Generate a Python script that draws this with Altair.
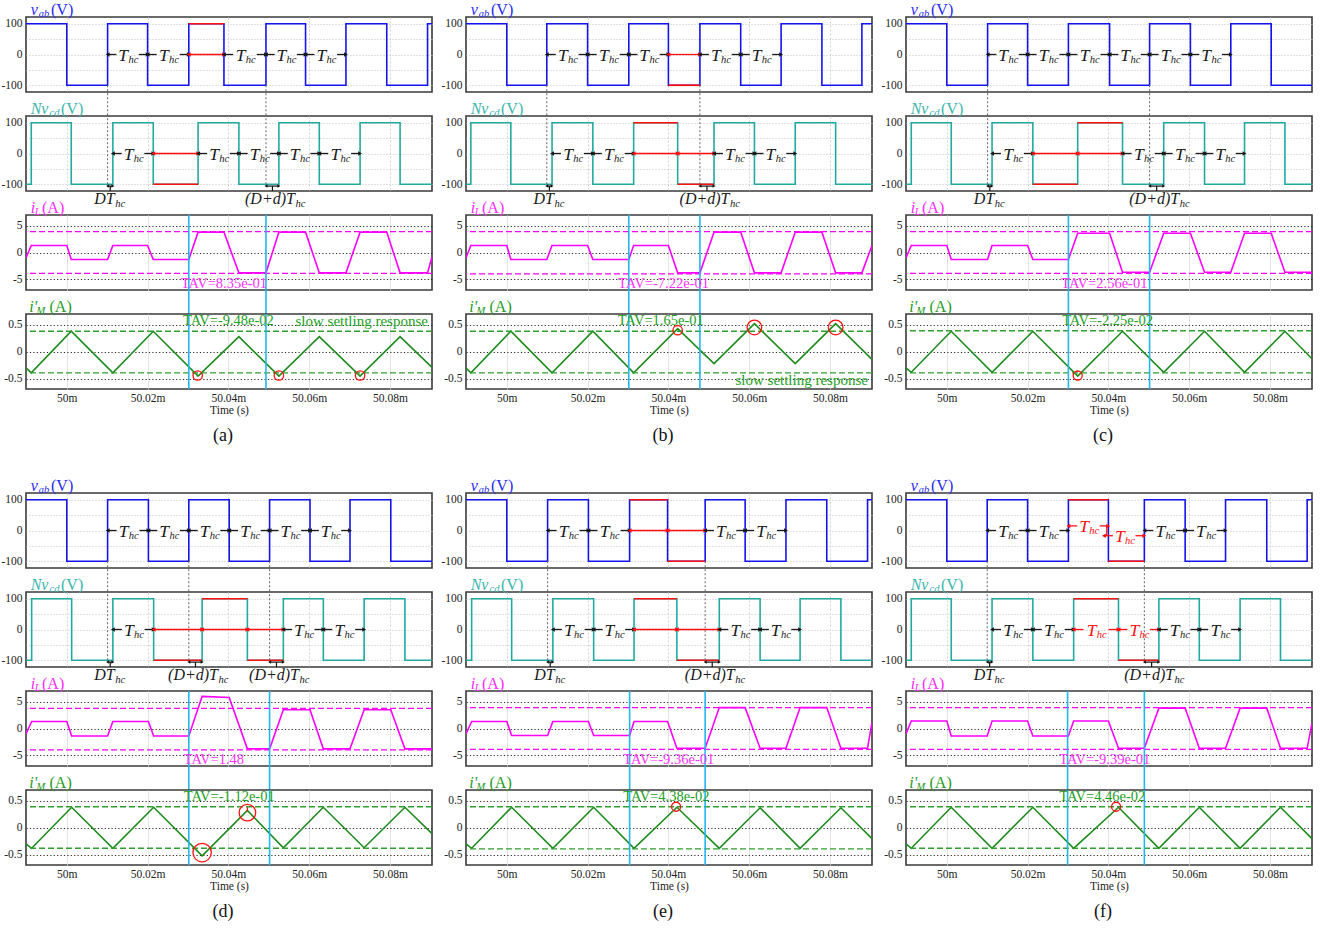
import altair as alt
import pandas as pd

FONT = "Liberation Serif"
W, H, GAP, COL_GAP, ROW_BREAK = 406, 75, 24, 34, 56

# time axis: microseconds after t = 50 ms
T_LO, T_HI = -10.1, 90.4
TIME_TICKS = [0, 20, 40, 60, 80]
PANELS = ["a", "b", "c", "d", "e", "f"]

# switching instants (µs); v_ab starts at +100 V, N*v_cd starts at -100 V
VAB_EDGES = {
    "a": [0.0, 10.1, 20.0, 30.2, 38.9, 49.3, 59.1, 69.1, 79.2, 89.3],
    "b": [0.0, 9.9, 20.0, 30.2, 40.0, 47.8, 57.9, 67.9, 78.0, 87.9],
    "c": [0.0, 10.1, 20.0, 30.1, 40.3, 50.2, 60.3, 70.3, 80.3],
    "d": [0.0, 10.1, 20.2, 30.2, 40.2, 50.2, 60.2, 70.1, 80.2],
    "e": [0.0, 10.1, 20.2, 30.4, 39.8, 49.1, 59.0, 69.1, 79.2, 89.3],
    "f": [0.0, 10.0, 20.0, 30.1, 40.0, 48.9, 59.0, 69.0, 79.2, 89.2],
}
NVCD_EDGES = {
    "a": [-8.8, 1.1, 11.4, 21.4, 32.5, 42.6, 52.5, 62.5, 72.6, 82.5],
    "b": [-8.9, 1.0, 11.2, 21.3, 31.4, 42.3, 51.3, 61.3, 71.4, 81.4],
    "c": [-8.8, 1.1, 11.2, 21.3, 32.4, 43.5, 53.7, 63.8, 73.7, 83.7],
    "d": [-8.7, 1.2, 11.4, 21.5, 33.5, 44.7, 53.6, 63.5, 73.6, 83.7],
    "e": [-8.7, 1.2, 11.4, 21.5, 31.5, 42.1, 52.6, 62.7, 72.6, 82.7],
    "f": [-8.8, 1.1, 11.2, 21.3, 31.4, 42.5, 52.5, 62.5, 72.6, 82.6],
}

# inductor current i_L (A): corner times and values
IL_T = {
    "a": [-10.1, -8.8, 0.0, 1.1, 10.1, 11.4, 20.0, 21.4, 30.2, 32.5, 38.9, 42.6, 49.3, 52.5, 59.1, 62.5, 69.1, 72.6, 79.2, 82.5, 89.3, 90.4],
    "b": [-10.1, -8.9, 0.0, 1.0, 9.9, 11.2, 20.0, 21.3, 30.2, 31.4, 40.0, 42.3, 47.8, 51.3, 57.9, 61.3, 67.9, 71.4, 78.0, 81.4, 87.9, 90.4],
    "c": [-10.1, -8.8, 0.0, 1.1, 10.1, 11.2, 20.0, 21.3, 30.1, 32.4, 40.3, 43.5, 50.2, 53.7, 60.3, 63.8, 70.3, 73.7, 80.3, 83.7, 90.4],
    "d": [-10.1, -8.7, 0.0, 1.2, 10.1, 11.4, 20.2, 21.5, 30.2, 33.5, 40.2, 44.7, 50.2, 53.6, 60.2, 63.5, 70.1, 73.6, 80.2, 83.7, 90.4],
    "e": [-10.1, -8.7, 0.0, 1.2, 10.1, 11.4, 20.2, 21.5, 30.4, 31.5, 39.8, 42.1, 49.1, 52.6, 59.0, 62.7, 69.1, 72.6, 79.2, 82.7, 89.3, 90.4],
    "f": [-10.1, -8.8, 0.0, 1.1, 10.0, 11.2, 20.0, 21.3, 30.1, 31.4, 40.0, 42.5, 48.9, 52.5, 59.0, 62.5, 69.0, 72.6, 79.2, 82.6, 89.2, 90.4],
}
IL_V = {
    "a": [-1.0, 1.3, 1.3, -1.3, -1.3, 1.3, 1.3, -1.3, -1.3, 3.8, 3.8, -3.8, -3.8, 3.8, 3.8, -3.8, -3.8, 3.8, 3.8, -3.8, -3.8, -0.8],
    "b": [-1.0, 1.3, 1.3, -1.3, -1.3, 1.3, 1.3, -1.3, -1.3, 1.3, 1.3, -3.8, -3.8, 3.8, 3.8, -3.8, -3.8, 3.8, 3.8, -3.8, -3.8, 1.3],
    "c": [-1.0, 1.3, 1.3, -1.3, -1.3, 1.3, 1.3, -1.3, -1.3, 3.6, 3.6, -3.7, -3.7, 3.6, 3.6, -3.7, -3.7, 3.6, 3.6, -3.7, -3.7],
    "d": [-1.0, 1.3, 1.3, -1.4, -1.4, 1.3, 1.3, -1.4, -1.4, 6.0, 5.8, -3.8, -3.8, 3.5, 3.5, -3.8, -3.8, 3.5, 3.5, -3.8, -3.8],
    "e": [-1.0, 1.3, 1.3, -1.3, -1.3, 1.3, 1.3, -1.3, -1.3, 1.3, 1.3, -3.7, -3.7, 3.9, 3.9, -3.7, -3.7, 3.9, 3.9, -3.7, -3.7, 1.2],
    "f": [-1.0, 1.4, 1.4, -1.4, -1.4, 1.4, 1.4, -1.4, -1.4, 1.4, 1.4, -3.7, -3.7, 3.8, 3.8, -3.7, -3.7, 3.8, 3.8, -3.7, -3.7, 1.0],
}

# magnetizing current i'_M (A): peaks and troughs
IM_T = {
    "a": [-10.1, -8.8, 1.1, 11.4, 21.4, 32.5, 42.6, 52.5, 62.5, 72.6, 82.5, 90.4],
    "b": [-10.1, -8.9, 1.0, 11.2, 21.3, 31.4, 42.3, 51.3, 61.3, 71.4, 81.4, 90.4],
    "c": [-10.1, -8.8, 1.1, 11.2, 21.3, 32.4, 43.5, 53.7, 63.8, 73.7, 83.7, 90.4],
    "d": [-10.1, -8.7, 1.2, 11.4, 21.5, 33.5, 44.7, 53.6, 63.5, 73.6, 83.7, 90.4],
    "e": [-10.1, -8.7, 1.2, 11.4, 21.5, 31.5, 42.1, 52.6, 62.7, 72.6, 82.7, 90.4],
    "f": [-10.1, -8.8, 1.1, 11.2, 21.3, 31.4, 42.5, 52.5, 62.5, 72.6, 82.6, 90.4],
}
IM_V = {
    "a": [-0.30, -0.39, 0.38, -0.39, 0.38, -0.45, 0.28, -0.45, 0.28, -0.45, 0.28, -0.29],
    "b": [-0.30, -0.39, 0.38, -0.39, 0.38, -0.39, 0.43, -0.22, 0.52, -0.22, 0.52, -0.14],
    "c": [-0.30, -0.38, 0.38, -0.38, 0.38, -0.45, 0.38, -0.38, 0.38, -0.38, 0.38, -0.13],
    "d": [-0.30, -0.38, 0.38, -0.38, 0.38, -0.52, 0.32, -0.37, 0.38, -0.37, 0.38, -0.11],
    "e": [-0.30, -0.38, 0.38, -0.38, 0.38, -0.38, 0.38, -0.38, 0.37, -0.38, 0.37, -0.20],
    "f": [-0.30, -0.38, 0.38, -0.38, 0.38, -0.38, 0.38, -0.38, 0.38, -0.38, 0.38, -0.20],
}

# half-cycle arrows: (start, end, level, ink, labelled)
VAB_ARROWS = {
    "a": [(10.1, 20.0, 0, "k", 1), (20.0, 30.2, 0, "k", 1), (30.2, 38.9, 0, "r", 0), (38.9, 49.3, 0, "k", 1), (49.3, 59.1, 0, "k", 1), (59.1, 69.1, 0, "k", 1)],
    "b": [(9.9, 20.0, 0, "k", 1), (20.0, 30.2, 0, "k", 1), (30.2, 40.0, 0, "k", 1), (40.0, 47.8, 0, "r", 0), (47.8, 57.9, 0, "k", 1), (57.9, 67.9, 0, "k", 1)],
    "c": [(10.1, 20.0, 0, "k", 1), (20.0, 30.1, 0, "k", 1), (30.1, 40.3, 0, "k", 1), (40.3, 50.2, 0, "k", 1), (50.2, 60.3, 0, "k", 1), (60.3, 70.3, 0, "k", 1)],
    "d": [(10.1, 20.2, 0, "k", 1), (20.2, 30.2, 0, "k", 1), (30.2, 40.2, 0, "k", 1), (40.2, 50.2, 0, "k", 1), (50.2, 60.2, 0, "k", 1), (60.2, 70.1, 0, "k", 1)],
    "e": [(10.1, 20.2, 0, "k", 1), (20.2, 30.4, 0, "k", 1), (30.4, 39.8, 0, "r", 0), (39.8, 49.1, 0, "r", 0), (49.1, 59.0, 0, "k", 1), (59.0, 69.1, 0, "k", 1)],
    "f": [(10.0, 20.0, 0, "k", 1), (20.0, 30.1, 0, "k", 1), (30.1, 40.0, 15, "r", 1), (38.9, 48.9, -17, "r", 1), (48.9, 59.0, 0, "k", 1), (59.0, 69.0, 0, "k", 1)],
}
NVCD_ARROWS = {
    "a": [(11.4, 21.4, 0, "k", 1), (21.4, 32.5, 0, "r", 0), (32.5, 42.6, 0, "k", 1), (42.6, 52.5, 0, "k", 1), (52.5, 62.5, 0, "k", 1), (62.5, 72.6, 0, "k", 1)],
    "b": [(11.2, 21.3, 0, "k", 1), (21.3, 31.4, 0, "k", 1), (31.4, 42.3, 0, "r", 0), (42.3, 51.3, 0, "r", 0), (51.3, 61.3, 0, "k", 1), (61.3, 71.4, 0, "k", 1)],
    "c": [(11.2, 21.3, 0, "k", 1), (21.3, 32.4, 0, "r", 0), (32.4, 43.5, 0, "r", 0), (43.5, 53.7, 0, "k", 1), (53.7, 63.8, 0, "k", 1), (63.8, 73.7, 0, "k", 1)],
    "d": [(11.4, 21.5, 0, "k", 1), (21.5, 33.5, 0, "r", 0), (33.5, 44.7, 0, "r", 0), (44.7, 53.6, 0, "r", 0), (53.6, 63.5, 0, "k", 1), (63.5, 73.6, 0, "k", 1)],
    "e": [(11.4, 21.5, 0, "k", 1), (21.5, 31.5, 0, "k", 1), (31.5, 42.1, 0, "r", 0), (42.1, 52.6, 0, "r", 0), (52.6, 62.7, 0, "k", 1), (62.7, 72.6, 0, "k", 1)],
    "f": [(11.2, 21.3, 0, "k", 1), (21.3, 31.4, 0, "k", 1), (31.4, 42.5, 0, "r", 1), (42.5, 52.5, 0, "r", 1), (52.5, 62.5, 0, "k", 1), (62.5, 72.6, 0, "k", 1)],
}

# highlighted (modified) half-cycles: (start, end, level)
VAB_RED = {
    "a": [(30.2, 38.9, 100)], "b": [(40.0, 47.8, -100)], "c": [], "d": [],
    "e": [(30.4, 39.8, 100), (39.8, 49.1, -100)], "f": [(30.1, 40.0, 100), (40.0, 48.9, -100)],
}
NVCD_RED = {
    "a": [(21.4, 32.5, -100)],
    "b": [(31.4, 42.3, 100), (42.3, 51.3, -100)],
    "c": [(21.3, 32.4, -100), (32.4, 43.5, 100)],
    "d": [(21.5, 33.5, -100), (33.5, 44.7, 100), (44.7, 53.6, -100)],
    "e": [(31.5, 42.1, 100), (42.1, 52.6, -100)],
    "f": [(31.4, 42.5, 100), (42.5, 52.5, -100)],
}
VAB_RED_LINK = {"f": [(39.6, 15, -17)]}

CONNECTORS = {"a": [10.1, 49.3], "b": [9.9, 47.8], "c": [10.1, 50.2], "d": [10.1, 30.2, 50.2], "e": [10.1, 49.1], "f": [10.0, 48.9]}
BRACKETS = {
    "a": [(10.1, 11.4, "DT"), (49.3, 52.5, "(D+d)T")],
    "b": [(9.9, 11.2, "DT"), (47.8, 51.3, "(D+d)T")],
    "c": [(10.1, 11.2, "DT"), (50.2, 53.7, "(D+d)T")],
    "d": [(10.1, 11.4, "DT"), (30.2, 33.5, "(D+d)T"), (50.2, 53.6, "(D+d)T")],
    "e": [(10.1, 11.4, "DT"), (49.1, 52.6, "(D+d)T")],
    "f": [(10.0, 11.2, "DT"), (48.9, 52.5, "(D+d)T")],
}
CURSORS = {"a": [30.2, 49.3], "b": [30.2, 47.8], "c": [30.1, 50.2], "d": [30.2, 50.2], "e": [30.4, 49.1], "f": [29.9, 48.9]}
IL_BAND = {"a": (3.9, -3.9), "b": (3.9, -4.0), "c": (3.9, -3.9), "d": (3.75, -4.0), "e": (3.9, -3.9), "f": (3.9, -3.9)}
IM_BAND = {"a": (0.38, -0.39), "b": (0.38, -0.39), "c": (0.39, -0.39), "d": (0.39, -0.38), "e": (0.39, -0.39), "f": (0.39, -0.38)}
IL_TAV = {"a": ("TAV=8.35e-01", 38.9), "b": ("TAV=-7.22e-01", 38.8), "c": ("TAV=2.56e-01", 39.0),
          "d": ("TAV=1.48", 36.4), "e": ("TAV=-9.36e-01", 40.1), "f": ("TAV=-9.39e-01", 39.1)}
IM_TAV = {"a": ("TAV=-9.48e-02", 40.0), "b": ("TAV=1.65e-01", 38.1), "c": ("TAV=-2.25e-02", 39.8),
          "d": ("TAV=-1.12e-01", 40.2), "e": ("TAV=4.38e-02", 39.5), "f": ("TAV=4.46e-02", 38.5)}
IM_RINGS = {  # (time, value, radius px)
    "a": [(32.4, -0.44, 4.7), (52.5, -0.44, 4.7), (72.6, -0.44, 4.7)],
    "b": [(42.3, 0.40, 4.7), (61.3, 0.45, 7.3), (81.4, 0.45, 7.3)],
    "c": [(32.4, -0.44, 4.5)],
    "d": [(33.5, -0.46, 9.2), (44.7, 0.28, 8.3)],
    "e": [(41.9, 0.39, 4.5)],
    "f": [(41.9, 0.39, 4.5)],
}
IM_TICK = {"d": [(44.7, 0.30, 0.38)]}
SLOW_NOTE = {"a": (73.0, 0.57), "b": (73.0, -0.52)}

BLUE, TEAL, MAGENTA, GREEN = "#1414f0", "#22aaa2", "#ff00ff", "#1c8a1c"
RED, CYAN = "#ff1010", "#22b6ef"
INK = {"k": "#1a1a1a", "r": RED}
TITLE_COLOR = {"vab": "#2a2af5", "nvcd": "#3ab5ad", "il": "#ff2aff", "im": "#249a24"}
TITLE_PARTS = {  # (text, italic, size, x px, baseline px)
    "vab": [("v", True, 16, 4.7, -2.5), ("ab", True, 10.5, 12.8, -0.2), ("(V)", False, 16, 25.0, -2.5)],
    "nvcd": [("Nv", True, 16, 4.7, -2.5), ("cd", True, 10.5, 23.5, -0.2), ("(V)", False, 16, 35.0, -2.5)],
    "il": [("i", True, 16, 4.7, -2.5), ("L", True, 10.5, 8.8, -0.2), ("(A)", False, 16, 16.0, -2.5)],
    "im": [("i'", True, 16, 3.3, -2.5), ("M", True, 10.5, 10.5, -0.2), ("(A)", False, 16, 23.5, -2.5)],
}

ONE = pd.DataFrame({"k": [0]})
XS = alt.Scale(domain=[T_LO, T_HI], nice=False, zero=False)
YS = {
    "vab": alt.Scale(domain=[-122, 122], nice=False, zero=False),
    "nvcd": alt.Scale(domain=[-122, 122], nice=False, zero=False),
    "il": alt.Scale(domain=[-7, 7], nice=False, zero=False),
    "im": alt.Scale(domain=[-0.69, 0.70], nice=False, zero=False),
}
Y_TICKS = {"vab": [-100, -50, 0, 50, 100], "nvcd": [-100, -50, 0, 50, 100], "il": [-5, 0, 5], "im": [-0.5, 0, 0.5]}


def x_axis(kind):
    volt = kind in ("vab", "nvcd")
    bottom = kind == "im"
    return alt.Axis(
        values=TIME_TICKS, grid=True, gridColor="#d2d2d2" if volt else "#dadada",
        gridDash=[2, 2] if volt else [1, 0], gridWidth=1,
        ticks=False, tickSize=0, domain=False, labels=bottom, labelOverlap=False,
        labelExpr="datum.value == 0 ? '50m' : format(50 + datum.value / 1000, '.2f') + 'm'",
        labelPadding=3, title="Time (s)" if bottom else None, titlePadding=1,
    )


def y_axis(kind):
    volt = kind in ("vab", "nvcd")
    return alt.Axis(
        values=Y_TICKS[kind], grid=True,
        gridColor="#c4c4c4" if volt else "#2a2a2a", gridDash=[1, 2] if volt else [1.2, 2.2], gridWidth=1,
        ticks=False, tickSize=0, domain=False, labelPadding=4, title=None, labelOverlap=False,
        labelExpr="abs(datum.value) == 50 ? '' : '' + datum.value",
    )


# every layer of a panel carries the same field names and the same axis definition,
# so the layered axes merge into one that keeps the chosen ticks
def X(kind):
    return alt.X("t:Q", scale=XS, axis=x_axis(kind))


def Y(kind):
    return alt.Y("v:Q", scale=YS[kind], axis=y_axis(kind))


def wave(df, kind, color):
    return alt.Chart(df).mark_line(color=color, strokeWidth=1.6, clip=True).encode(
        x=X(kind), y=Y(kind), order="i:Q")


def square(edges, start):
    rows, lvl = [(T_LO, start)], start
    for t in edges:
        rows.append((t, lvl))
        lvl = -lvl
        rows.append((t, lvl))
    rows.append((T_HI, lvl))
    df = pd.DataFrame(rows, columns=["t", "v"])
    df["i"] = range(len(df))
    return df


def polyline(ts, vs):
    return pd.DataFrame({"t": ts, "v": vs, "i": range(len(ts))})


def title_layers(kind):
    out = []
    for txt, ital, size, x, y in TITLE_PARTS[kind]:
        out.append(alt.Chart(ONE).mark_text(
            text=txt, font=FONT, fontSize=size, fontStyle="italic" if ital else "normal",
            color=TITLE_COLOR[kind], align="left", baseline="alphabetic",
        ).encode(x=alt.value(x), y=alt.value(y)))
    return out


def arrow_layers(arrows, kind):
    segs, heads, labs = [], [], []
    for t1, t2, y, ink, labelled in arrows:
        c = INK[ink]
        if labelled:
            g = 0.22 * (t2 - t1)
            segs += [{"t": t1, "t2": t1 + g, "v": y, "c": c}, {"t": t2 - g, "t2": t2, "v": y, "c": c}]
            labs.append({"t": (t1 + t2) / 2, "v": y, "c": c})
        else:
            segs.append({"t": t1, "t2": t2, "v": y, "c": c})
        heads += [{"t": t1, "v": y, "c": c, "s": "triangle-left"}, {"t": t2, "v": y, "c": c, "s": "triangle-right"}]
    col = alt.Color("c:N", scale=None)
    layers = [
        alt.Chart(pd.DataFrame(segs)).mark_rule(strokeWidth=1.3).encode(x=X(kind), x2="t2:Q", y=Y(kind), color=col),
        alt.Chart(pd.DataFrame(heads)).mark_point(filled=True, size=20, opacity=1).encode(
            x=X(kind), y=Y(kind), color=col, shape=alt.Shape("s:N", scale=None)),
    ]
    if labs:
        d = pd.DataFrame(labs)
        layers += [
            alt.Chart(d).mark_text(text="T", font=FONT, fontSize=17.5, fontStyle="italic", align="right",
                                   baseline="middle", dx=0.5, dy=1).encode(x=X(kind), y=Y(kind), color=col),
            alt.Chart(d).mark_text(text="hc", font=FONT, fontSize=10.5, fontStyle="italic", align="left",
                                   baseline="alphabetic", dx=0.8, dy=8.5).encode(x=X(kind), y=Y(kind), color=col),
        ]
    return layers


def red_layer(spans, kind):
    d = pd.DataFrame(spans, columns=["t", "t2", "v"])
    return alt.Chart(d).mark_rule(color=RED, strokeWidth=1.7).encode(x=X(kind), x2="t2:Q", y=Y(kind))


def vab_cell(p):
    k = "vab"
    layers = [wave(square(VAB_EDGES[p], 100), k, BLUE)]
    if VAB_RED[p]:
        layers.append(red_layer(VAB_RED[p], k))
    if p in VAB_RED_LINK:
        d = pd.DataFrame(VAB_RED_LINK[p], columns=["t", "v", "v2"])
        layers.append(alt.Chart(d).mark_rule(color=RED, strokeWidth=1.3).encode(x=X(k), y=Y(k), y2="v2:Q"))
    conn = pd.DataFrame({"t": CONNECTORS[p], "v": -100})
    layers.append(alt.Chart(conn).mark_rule(color="#666", strokeWidth=1, strokeDash=[2, 2]).encode(
        x=X(k), y=Y(k), y2=alt.value(H + GAP)))
    layers += arrow_layers(VAB_ARROWS[p], k)
    layers += title_layers(k)
    return alt.layer(*layers).properties(width=W, height=H)


def nvcd_cell(p):
    k = "nvcd"
    layers = [wave(square(NVCD_EDGES[p], -100), k, TEAL)]
    if NVCD_RED[p]:
        layers.append(red_layer(NVCD_RED[p], k))
    conn = pd.DataFrame({"t": CONNECTORS[p], "v": -100})
    layers.append(alt.Chart(conn).mark_rule(color="#666", strokeWidth=1, strokeDash=[2, 2]).encode(
        x=X(k), y=Y(k), y2=alt.value(0)))
    layers += arrow_layers(NVCD_ARROWS[p], k)
    br = pd.DataFrame(BRACKETS[p], columns=["t", "t2", "lab"])
    br["v"] = -106
    mids = pd.DataFrame({"t": (br["t"] + br["t2"]) / 2, "v": -106, "lab": br["lab"]})
    heads = pd.concat([
        pd.DataFrame({"t": br["t"], "v": -106, "s": "triangle-left"}),
        pd.DataFrame({"t": br["t2"], "v": -106, "s": "triangle-right"}),
    ])
    layers += [
        alt.Chart(br).mark_rule(color="#111", strokeWidth=1.2).encode(x=X(k), x2="t2:Q", y=Y(k)),
        alt.Chart(heads).mark_point(filled=True, size=12, color="#111", opacity=1).encode(
            x=X(k), y=Y(k), shape=alt.Shape("s:N", scale=None)),
        alt.Chart(mids).mark_rule(color="#111", strokeWidth=1.2).encode(x=X(k), y=Y(k), y2=alt.value(H)),
    ]
    for lab, off in (("DT", 4.5), ("(D+d)T", 22.5)):
        sub = mids[mids["lab"] == lab]
        if len(sub) == 0:
            continue
        layers += [
            alt.Chart(sub).mark_text(text=lab, font=FONT, fontSize=16, fontStyle="italic", color="#1a1a1a",
                                     align="right", baseline="alphabetic", dx=off).encode(x=X(k), y=alt.value(H + 13)),
            alt.Chart(sub).mark_text(text="hc", font=FONT, fontSize=10.5, fontStyle="italic", color="#1a1a1a",
                                     align="left", baseline="alphabetic", dx=off + 0.5).encode(x=X(k), y=alt.value(H + 15.5)),
        ]
    layers += title_layers(k)
    return alt.layer(*layers).properties(width=W, height=H)


def il_cell(p):
    k = "il"
    band = pd.DataFrame({"v": list(IL_BAND[p])})
    layers = [
        wave(polyline(IL_T[p], IL_V[p]), k, MAGENTA),
        alt.Chart(band).mark_rule(color=MAGENTA, strokeWidth=1.3, strokeDash=[6, 3]).encode(y=Y(k)),
        alt.Chart(pd.DataFrame({"t": CURSORS[p]})).mark_rule(color=CYAN, strokeWidth=1.6).encode(
            x=X(k), y=alt.value(0), y2=alt.value(H + GAP)),
    ]
    txt, tx = IL_TAV[p]
    layers.append(alt.Chart(pd.DataFrame({"t": [tx], "v": [-5.85]})).mark_text(
        text=txt, font=FONT, fontSize=14.5, color="#ff33ff", align="center", baseline="middle").encode(x=X(k), y=Y(k)))
    layers += title_layers(k)
    return alt.layer(*layers).properties(width=W, height=H)


def im_cell(p):
    k = "im"
    band = pd.DataFrame({"v": list(IM_BAND[p])})
    layers = [
        wave(polyline(IM_T[p], IM_V[p]), k, GREEN),
        alt.Chart(band).mark_rule(color="#2f9f2f", strokeWidth=1.3, strokeDash=[6, 3]).encode(y=Y(k)),
        alt.Chart(pd.DataFrame({"t": CURSORS[p]})).mark_rule(color=CYAN, strokeWidth=1.6).encode(
            x=X(k), y=alt.value(0), y2=alt.value(H)),
    ]
    rings = pd.DataFrame(IM_RINGS[p], columns=["t", "v", "r"])
    rings["s"] = (2 * rings["r"]) ** 2
    layers.append(alt.Chart(rings).mark_point(shape="circle", filled=False, color=RED, strokeWidth=1.3, opacity=1).encode(
        x=X(k), y=Y(k), size=alt.Size("s:Q", scale=None)))
    if p in IM_TICK:
        d = pd.DataFrame(IM_TICK[p], columns=["t", "v", "v2"])
        layers.append(alt.Chart(d).mark_rule(color=RED, strokeWidth=1.2).encode(x=X(k), y=Y(k), y2="v2:Q"))
    txt, tx = IM_TAV[p]
    layers.append(alt.Chart(pd.DataFrame({"t": [tx], "v": [0.57]})).mark_text(
        text=txt, font=FONT, fontSize=14.5, color="#22a022", align="center", baseline="middle").encode(x=X(k), y=Y(k)))
    if p in SLOW_NOTE:
        sx, sy = SLOW_NOTE[p]
        layers.append(alt.Chart(pd.DataFrame({"t": [sx], "v": [sy]})).mark_text(
            text="slow settling response", font=FONT, fontSize=15, color="#22a022", align="center",
            baseline="middle").encode(x=X(k), y=Y(k)))
    layers += title_layers(k)
    layers.append(alt.Chart(ONE).mark_text(
        text=f"({p})", font=FONT, fontSize=18, color="#111", align="center", baseline="middle",
    ).encode(x=alt.value(W / 2 - 6), y=alt.value(H + 47)))
    return alt.layer(*layers).properties(width=W, height=H)


def spacer():
    return alt.Chart(ONE).mark_point(opacity=0).encode(x=alt.value(0), y=alt.value(0)).properties(
        width=W, height=ROW_BREAK, view=alt.ViewBackground(strokeOpacity=0))


cells = []
for gi, group in enumerate((["a", "b", "c"], ["d", "e", "f"])):
    if gi:
        cells += [spacer() for _ in group]
    for make in (vab_cell, nvcd_cell, il_cell, im_cell):
        cells += [make(p) for p in group]

chart = alt.concat(
    *cells, columns=3, spacing={"row": GAP, "column": COL_GAP}, bounds="flush", align="each",
).configure_view(
    stroke="#3a3a3a", strokeWidth=1.6,
).configure_axis(
    labelFont=FONT, titleFont=FONT, labelFontSize=11.5, titleFontSize=11.5,
    labelColor="#222", titleColor="#222", titleFontWeight="normal",
).properties(
    padding={"left": 0, "top": 0, "right": 4, "bottom": 4}, background="white",
)

chart.save("out.html", embed_options={"renderer": "svg", "actions": False})
